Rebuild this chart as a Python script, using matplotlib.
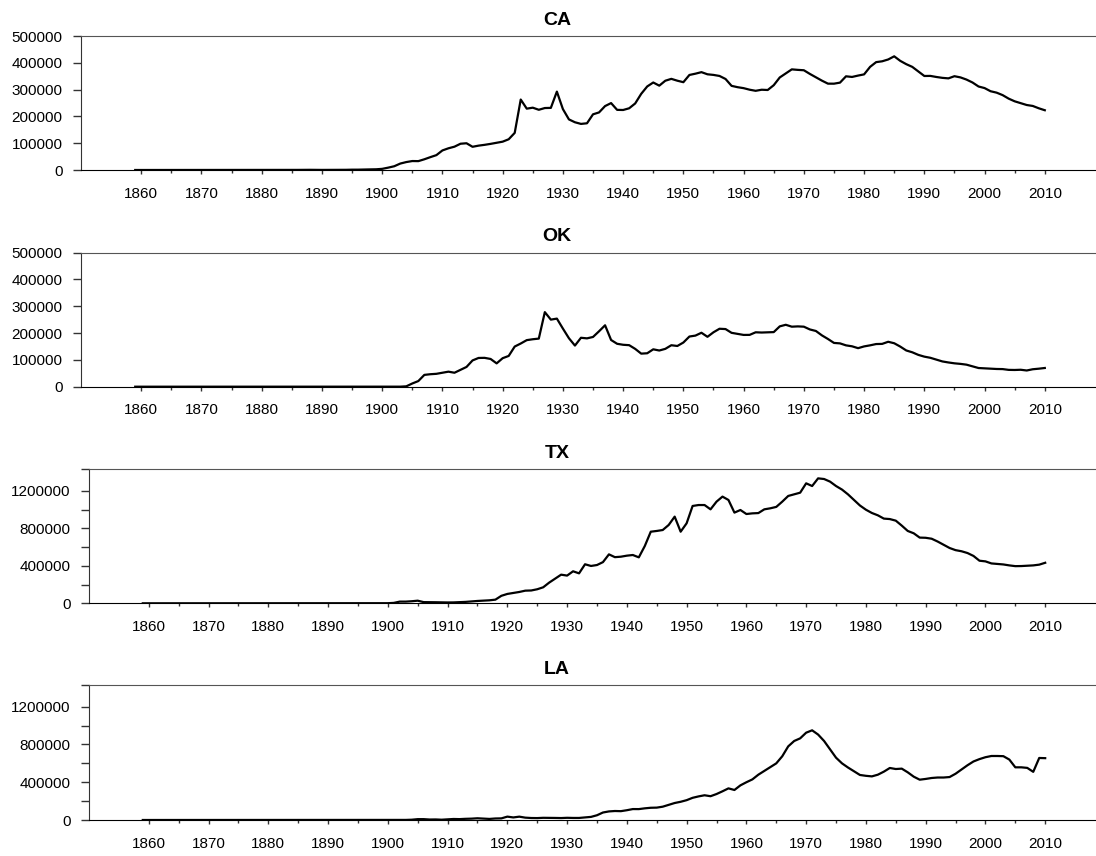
import numpy as np
import matplotlib
matplotlib.use("Agg")
import matplotlib.pyplot as plt

plt.rcParams["font.family"] = ["Liberation Sans", "DejaVu Sans"]

# Years covered by every series
years = np.arange(1859, 2011)

# Crude oil production by state (thousand barrels), 1859-2010
ca_values = [
    0,
    0, 0, 0, 0, 0, 0, 0, 0, 0, 0,
    0, 0, 0, 0, 0, 0, 12, 13, 15, 20,
    40, 100, 129, 143, 263, 325, 377, 678, 690, 303,
    307, 324, 385, 470, 706, 1208, 1253, 1903, 2257, 2642,
    4300, 8800, 14000, 24000, 29600, 33400, 33100, 40000, 48000, 55500,
    73000, 81000, 87000, 98000, 99800, 86600, 90900, 93900, 97500, 101600,
    105700, 114700, 138500, 262900, 228900, 232500, 224700, 231200, 231800, 292500,
    227300, 188800, 178100, 172000, 174300, 207800, 214800, 238500, 249700, 224400,
    223900, 230300, 248300, 284200, 311800, 326500, 314700, 333100, 340100, 333200,
    327600, 354600, 359400, 365100, 357100, 354800, 350900, 339600, 314000, 309000,
    305400, 299600, 295500, 299500, 298500, 316400, 345300, 360400, 375500, 373600,
    372200, 358500, 346000, 333400, 322200, 322100, 326000, 349600, 347200, 352300,
    356800, 384900, 402500, 405600, 412400, 424200, 407300, 394900, 384800, 367800,
    350800, 351100, 347100, 343800, 341900, 350000, 345500, 337400, 326500, 311600,
    305700, 293900, 288600, 279400, 266300, 256300, 249600, 242500, 239000, 230300, 223000,
]

ok_values = [
    0,
    0, 0, 0, 0, 0, 0, 0, 0, 0, 0,
    0, 0, 0, 0, 0, 0, 0, 0, 0, 0,
    0, 0, 0, 0, 0, 0, 0, 0, 0, 0,
    0, 0, 0, 0, 0, 0, 0, 0, 0, 0,
    6, 10, 37, 139, 1400, 12000, 21000, 44000, 46500, 48000,
    52000, 56000, 52000, 63000, 73600, 97900, 107100, 107500, 103300, 86900,
    106200, 114600, 149600, 160900, 173500, 176800, 179200, 277800, 249900, 253700,
    216500, 180600, 153200, 182300, 180100, 185300, 206500, 228800, 174000, 159900,
    156200, 154700, 140900, 123200, 124600, 139300, 134800, 141000, 154500, 151700,
    164600, 186900, 190400, 201000, 185900, 202800, 215900, 214700, 200700, 197000,
    192900, 193100, 202700, 201800, 202500, 203400, 224800, 230700, 223600, 224700,
    223600, 213300, 207600, 191200, 177800, 163100, 161400, 154000, 150500, 143600,
    150100, 154100, 158900, 159500, 167400, 161900, 149500, 135000, 128200, 118600,
    112000, 107700, 100700, 94100, 90300, 87100, 85000, 82100, 76000, 69600,
    68400, 67300, 66000, 65600, 62700, 62300, 63100, 60400, 65000, 67100, 69700,
]

tx_values = [
    0,
    0, 0, 0, 0, 0, 0, 0, 0, 0, 0,
    0, 0, 0, 0, 0, 0, 0, 0, 0, 0,
    0, 0, 0, 0, 0, 0, 0, 0, 0, 0,
    0, 0, 0, 0, 0, 0, 1, 66, 546, 669,
    1000, 4400, 18000, 18000, 22000, 28000, 12500, 12300, 11200, 9500,
    8900, 9500, 11700, 15000, 20000, 25000, 28000, 32000, 39000, 80000,
    100000, 110000, 121000, 135000, 137000, 150000, 171000, 221000, 263000, 306000,
    296000, 342000, 320000, 417000, 399000, 409000, 440000, 523000, 493000, 498000,
    509000, 516000, 491000, 612000, 765000, 773000, 783000, 837000, 926000, 765000,
    855000, 1040000, 1050000, 1050000, 1004000, 1086000, 1140000, 1104000, 969000, 997000,
    954000, 961000, 964000, 1004000, 1015000, 1030000, 1086000, 1147000, 1164000, 1182000,
    1282000, 1253000, 1335000, 1328000, 1300000, 1253000, 1215000, 1164000, 1104000, 1045000,
    1000000, 965000, 940000, 905000, 900000, 883000, 830000, 773000, 748000, 702000,
    700000, 690000, 660000, 625000, 591000, 568000, 556000, 537000, 506000, 455000,
    448000, 426000, 420000, 415000, 405000, 397000, 398000, 401000, 405000, 413000, 433000,
]

la_values = [
    0,
    0, 0, 0, 0, 0, 0, 0, 0, 0, 0,
    0, 0, 0, 0, 0, 0, 0, 0, 0, 0,
    0, 0, 0, 0, 0, 0, 0, 0, 0, 0,
    0, 0, 0, 0, 0, 0, 0, 0, 0, 0,
    0, 0, 500, 900, 3000, 8900, 9000, 5000, 5800, 3100,
    6800, 10700, 9300, 12500, 14300, 18200, 15200, 11400, 16000, 17200,
    35700, 27100, 35400, 24900, 21100, 20300, 23200, 22800, 21800, 20600,
    23300, 21800, 21800, 27800, 32900, 50300, 79400, 90900, 95200, 93600,
    103600, 115800, 115400, 123600, 129600, 131100, 141000, 160000, 180000, 193000,
    210000, 235000, 250000, 262000, 252000, 275000, 304000, 335000, 318000, 367000,
    400000, 430000, 480000, 520000, 560000, 600000, 675000, 780000, 837000, 865000,
    925000, 950000, 905000, 837000, 749000, 660000, 600000, 556000, 516000, 477000,
    468000, 462000, 480000, 512000, 551000, 540000, 544000, 505000, 459000, 427000,
    435000, 445000, 450000, 450000, 455000, 490000, 535000, 580000, 620000, 645000,
    665000, 678000, 678000, 676000, 640000, 558000, 558000, 552000, 510000, 657000, 655000,
]

states = ["CA", "OK", "TX", "LA"]
series = [ca_values, ok_values, tx_values, la_values]

W, H = 1096, 856
fig = plt.figure(figsize=(W / 100, H / 100), dpi=100)

# panel boxes in pixels: left, top, bottom
boxes = [(81, 36, 170), (81, 252.5, 386.7), (89, 469, 603.3), (89, 685, 820)]
ytops = [500000, 500000, 1435000, 1430000]

for name, vals, (left, top, bottom), ytop in zip(states, series, boxes, ytops):
    ax = fig.add_axes([left / W, 1 - bottom / H, (W - left) / W, (bottom - top) / H])
    ax.plot(years, vals, color="black", linewidth=1.6)

    ax.set_xlim(1850, 2018.5)
    ax.set_ylim(0, ytop)

    ax.set_xticks(np.arange(1860, 2011, 10))
    ax.set_xticks(np.arange(1865, 2010, 10), minor=True)
    if ytop == 500000:
        ax.set_yticks(np.arange(0, 500001, 100000))
    else:
        ax.set_yticks([0, 400000, 800000, 1200000])
        ax.set_yticks([200000, 600000, 1000000, ytop], minor=True)
    ax.yaxis.set_major_formatter(matplotlib.ticker.FuncFormatter(lambda v, p: f"{int(v)}"))

    ax.spines["right"].set_visible(False)
    ax.spines["top"].set_color("#555555")
    ax.spines["left"].set_color("#333333")
    ax.spines["bottom"].set_color("black")

    ax.tick_params(axis="y", which="both", direction="out", length=5.8, width=1,
                   pad=7.4, labelsize=11, colors="#333333", labelcolor="black")
    ax.tick_params(axis="x", which="major", direction="out", length=3, width=1,
                   pad=9, labelsize=11, colors="#333333", labelcolor="black")
    ax.tick_params(axis="x", which="minor", direction="out", length=2.5, width=1,
                   colors="#333333")

    title_x = (557 - left) / (W - left)
    ax.set_title(name, x=title_x, fontsize=14, fontweight="bold", pad=8)

fig.savefig("out.png", dpi=100)
